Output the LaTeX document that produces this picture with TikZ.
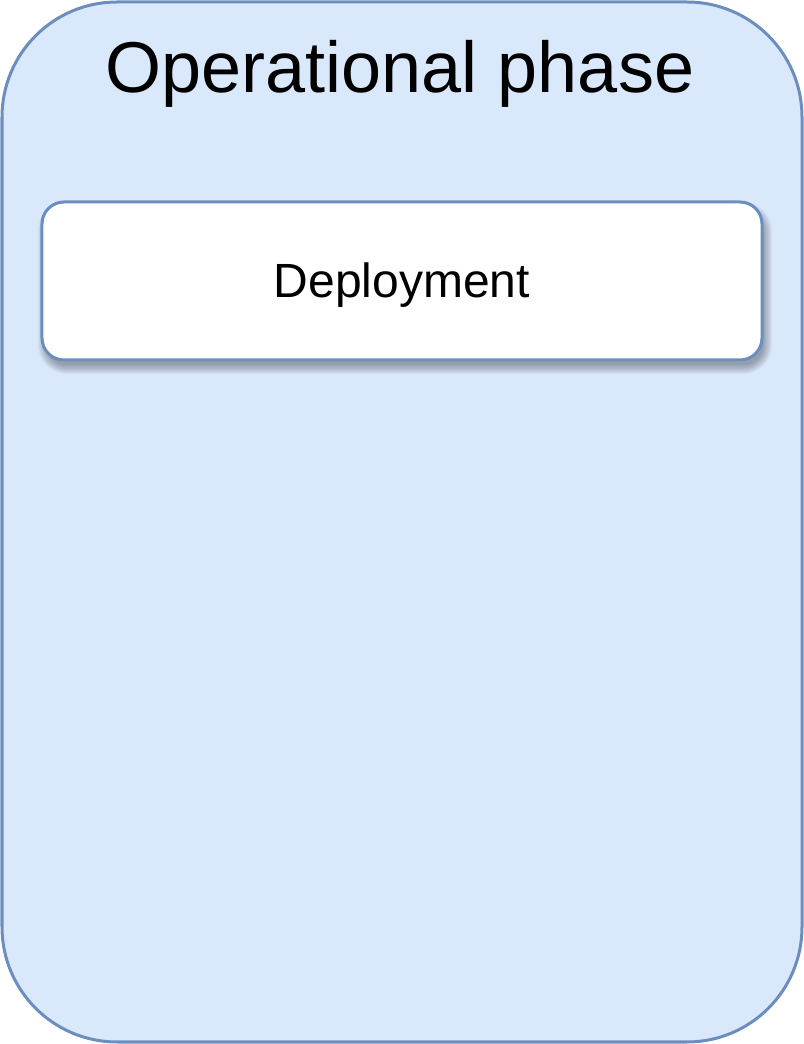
\documentclass[tikz,border=0pt]{standalone}
\usepackage{fontspec}
\setmainfont{Liberation Sans}
\definecolor{frameblue}{HTML}{6C8EBF}
\definecolor{fillblue}{HTML}{DAE8FC}
\tikzset{
  phasebox/.style={draw=frameblue, fill=fillblue, line width=3bp, rounded corners=115bp},
  stagebox/.style={draw=frameblue, fill=white, line width=3bp, rounded corners=22bp,
    minimum width=720bp, minimum height=158bp, inner sep=0pt,
    text height=34bp, text depth=0bp,
    font=\fontsize{48bp}{56bp}\selectfont, text=black},
  shadowlayer/.style={fill=black, fill opacity=0.035, draw=none},
  phasetitle/.style={font=\fontsize{72bp}{80bp}\selectfont, text=black, inner sep=0pt, anchor=base}
}
\begin{document}
\begin{tikzpicture}[x=1bp, y=1bp]
  \useasboundingbox (0,0) rectangle (804,1044);
  \draw[phasebox] (2,2) rectangle (802,1042);
  \node[phasetitle] (title) at (400,951) {Operational phase};
  \foreach \r in {7,6,5,4,3,2,1,0,-1,-2}{
    \fill[shadowlayer, rounded corners=22bp+\r bp] (45-\r,677-\r) rectangle (765+\r,835+\r);
  }
  \node[stagebox] (deploy) at (402,763) {Deployment};
\end{tikzpicture}
\end{document}
